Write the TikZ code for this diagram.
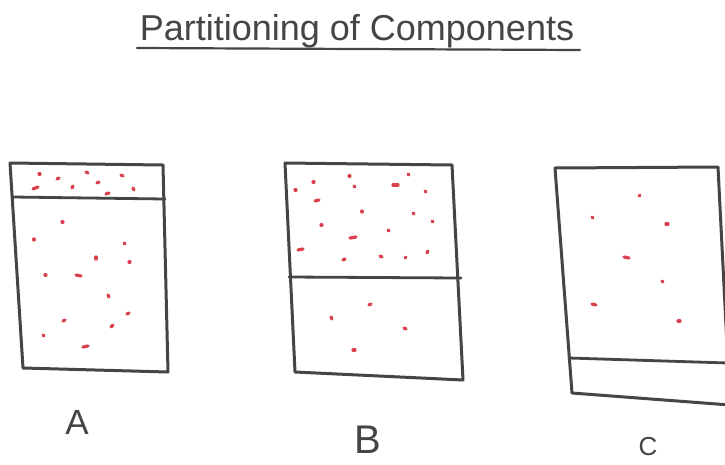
\documentclass[tikz,border=0pt]{standalone}
\usepackage{fontspec}
\setmainfont{Liberation Sans}
\definecolor{ink}{HTML}{454545}
\definecolor{redink}{HTML}{D9414E}
\begin{document}
\begin{tikzpicture}[x=1pt,y=-1pt,
  outline/.style={draw=ink,line width=3pt,line join=round,line cap=round},
  divider/.style={draw=ink,line width=2.8pt,line cap=round},
  speck/.style={draw=redink,line width=3.2pt,line cap=round},
  letter/.style={text=ink,inner sep=0pt},
  titletext/.style={font=\fontsize{36}{36}\selectfont,text=ink,inner sep=0pt,anchor=base}]
\useasboundingbox (0,0) rectangle (725,464);
\clip (0,0) rectangle (725,464);
\fill[white] (0,0) rectangle (725,464);
% title
\node[titletext] (title) at (357,40) {Partitioning of Components};
\coordinate (ulL) at (137,48);
\coordinate (ulR) at (580,50);
\draw[draw=ink,line width=2.2pt,line cap=round] (ulL) -- (ulR);
% box A
\coordinate (a1) at (10,163); \coordinate (a2) at (163,165);
\coordinate (a3) at (168,372); \coordinate (a4) at (23,368);
\draw[outline] (a1) -- (a2) -- (a3) -- (a4) -- cycle;
\coordinate (ap1) at (13,197); \coordinate (ap2) at (165,199);
\draw[divider] (ap1) -- (ap2);
% box B
\coordinate (b1) at (285,163); \coordinate (b2) at (452,165);
\coordinate (b3) at (463,380); \coordinate (b4) at (295,372);
\draw[outline] (b1) -- (b2) -- (b3) -- (b4) -- cycle;
\coordinate (bp1) at (289,277); \coordinate (bp2) at (461,278);
\draw[divider] (bp1) -- (bp2);
% box C
\coordinate (c1) at (555,168); \coordinate (c2) at (718,167);
\coordinate (c3) at (730,405); \coordinate (c4) at (572,393);
\draw[outline] (c1) -- (c2) -- (c3) -- (c4) -- cycle;
\coordinate (cp1) at (569,358); \coordinate (cp2) at (728,363);
\draw[divider] (cp1) -- (cp2);
% labels
\node[letter,font=\fontsize{35}{35}\selectfont] (la) at (77,422) {A};
\node[letter,font=\fontsize{40}{40}\selectfont] (lb) at (368,440) {B};
\node[letter,font=\fontsize{26}{26}\selectfont] (lc) at (648,447) {C};
% specks A
\foreach \x/\y/\dx/\dy in {39/174/1/0,57/179/2/-1,86/172/2/1,121/175/2/1,33/189/5/-2,72/188/1/-2,97/183/2/-1,133/188/1/2,106/194/3/-1,
  62/222/1/0,34/239/0/1,124/243/1/1,96/257/0/2,129/262/1/0,45/275/1/0,76/275/5/1,108/295/1/2,127/314/2/-1,63/321/2/-1,111/327/2/-2,43/335/1/1,83/347/5/-1}
  \draw[speck] (\x,\y) -- ++(\dx,\dy);
% specks B
\foreach \x/\y/\dx/\dy in {349/176/1/0,408/174/1/1,313/182/1/0,354/186/1/1,393/185/5/0,295/190/1/0,425/191/1/1,315/201/4/-1,362/211/0/1,413/213/1/1,432/221/1/1,321/225/1/0,388/230/1/1,350/238/6/-1,298/250/5/-1,343/260/2/-1,380/256/2/1,405/258/1/-1,427/253/1/-2,
  369/305/2/-1,331/317/1/2,404/328/2/1,353/350/2/0}
  \draw[speck] (\x,\y) -- ++(\dx,\dy);
% specks C
\foreach \x/\y/\dx/\dy in {639/196/1/-1,592/217/1/1,666/224/2/0,624/257/5/1,662/281/1/1,592/304/4/1,678/321/2/0}
  \draw[speck] (\x,\y) -- ++(\dx,\dy);
\end{tikzpicture}
\end{document}
